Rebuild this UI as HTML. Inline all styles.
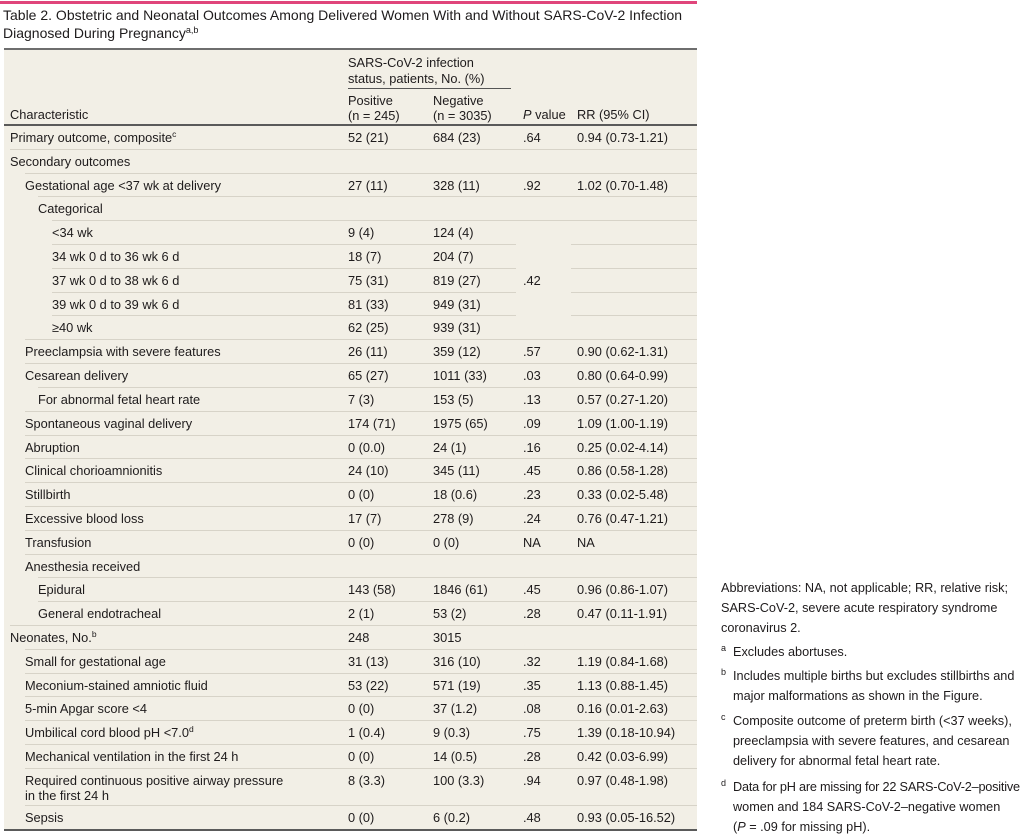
<!DOCTYPE html>
<html><head><meta charset="utf-8">
<style>
html,body{margin:0;padding:0}
body{width:1024px;height:836px;position:relative;background:#fff;font-family:"Liberation Sans",Arial,sans-serif;color:#1e1b1c;overflow:hidden}
.a{position:absolute;white-space:nowrap}
.t{position:absolute;white-space:nowrap;font-size:12.8px;line-height:24px}
.ln{position:absolute;height:1px;background:#d7d3c8}
.sp{font-size:8.5px;position:relative;top:-5px}
.h{position:absolute;white-space:nowrap;font-size:12.8px;line-height:15px}
.fn{position:absolute;left:721px;font-size:12.7px;line-height:20px;white-space:nowrap;color:#1e1b1c}
.fm{position:absolute;left:0;top:-4px;font-size:9px}
.fi{padding-left:12px}
</style></head><body>

<div class="a" style="left:0;top:1px;width:697px;height:3px;background:#e0457b"></div>
<div class="a" style="left:3px;top:6px;font-size:14px;line-height:18px">Table 2. Obstetric and Neonatal Outcomes Among Delivered Women With and Without SARS-CoV-2 Infection<br>Diagnosed During Pregnancy<span style="font-size:9px;position:relative;top:-5px">a,b</span></div>

<div class="a" style="left:4px;top:48px;width:693px;height:783px;background:#f2efe6"></div>
<div class="a" style="left:4px;top:48px;width:693px;height:2px;background:#6e6e6e"></div>
<div class="a" style="left:4px;top:124px;width:693px;height:2px;background:#5a5a5a"></div>
<div class="a" style="left:4px;top:829px;width:693px;height:2px;background:#5a5a5a"></div>

<!-- header -->
<div class="h" style="left:348px;top:55px;line-height:16px">SARS-CoV-2 infection<br>status, patients, No. (%)</div>
<div class="a" style="left:348px;top:88px;width:163px;height:1px;background:#555"></div>
<div class="h" style="left:348px;top:93px">Positive<br>(n = 245)</div>
<div class="h" style="left:433px;top:93px">Negative<br>(n = 3035)</div>
<div class="h" style="left:10px;top:107px">Characteristic</div>
<div class="h" style="left:523px;top:107px"><i>P</i> value</div>
<div class="h" style="left:577px;top:107px">RR (95% CI)</div>

<!-- separator lines -->
<div class="ln" style="left:10px;top:149px;width:687px"></div>
<div class="ln" style="left:25px;top:173px;width:672px"></div>
<div class="ln" style="left:38px;top:196px;width:659px"></div>
<div class="ln" style="left:52px;top:220px;width:645px"></div>
<div class="ln" style="left:52px;top:244px;width:464px"></div><div class="ln" style="left:571px;top:244px;width:126px"></div>
<div class="ln" style="left:52px;top:268px;width:464px"></div><div class="ln" style="left:571px;top:268px;width:126px"></div>
<div class="ln" style="left:52px;top:292px;width:464px"></div><div class="ln" style="left:571px;top:292px;width:126px"></div>
<div class="ln" style="left:52px;top:315px;width:464px"></div><div class="ln" style="left:571px;top:315px;width:126px"></div>
<div class="ln" style="left:25px;top:339px;width:672px"></div>
<div class="ln" style="left:25px;top:363px;width:672px"></div>
<div class="ln" style="left:38px;top:387px;width:659px"></div>
<div class="ln" style="left:25px;top:411px;width:672px"></div>
<div class="ln" style="left:25px;top:435px;width:672px"></div>
<div class="ln" style="left:25px;top:458px;width:672px"></div>
<div class="ln" style="left:25px;top:482px;width:672px"></div>
<div class="ln" style="left:25px;top:506px;width:672px"></div>
<div class="ln" style="left:25px;top:530px;width:672px"></div>
<div class="ln" style="left:25px;top:554px;width:672px"></div>
<div class="ln" style="left:38px;top:577px;width:659px"></div>
<div class="ln" style="left:38px;top:601px;width:659px"></div>
<div class="ln" style="left:10px;top:625px;width:687px"></div>
<div class="ln" style="left:25px;top:649px;width:672px"></div>
<div class="ln" style="left:25px;top:673px;width:672px"></div>
<div class="ln" style="left:25px;top:696px;width:672px"></div>
<div class="ln" style="left:25px;top:720px;width:672px"></div>
<div class="ln" style="left:25px;top:744px;width:672px"></div>
<div class="ln" style="left:25px;top:768px;width:672px"></div>
<div class="ln" style="left:25px;top:805px;width:672px"></div>

<!-- rows -->
<div class="t" style="left:10px;top:126px">Primary outcome, composite<span class="sp">c</span></div>
<div class="t" style="left:348px;top:126px">52 (21)</div><div class="t" style="left:433px;top:126px">684 (23)</div><div class="t" style="left:523px;top:126px">.64</div><div class="t" style="left:577px;top:126px">0.94 (0.73-1.21)</div>

<div class="t" style="left:10px;top:150px">Secondary outcomes</div>

<div class="t" style="left:25px;top:174px">Gestational age &lt;37 wk at delivery</div>
<div class="t" style="left:348px;top:174px">27 (11)</div><div class="t" style="left:433px;top:174px">328 (11)</div><div class="t" style="left:523px;top:174px">.92</div><div class="t" style="left:577px;top:174px">1.02 (0.70-1.48)</div>

<div class="t" style="left:38px;top:197px">Categorical</div>

<div class="t" style="left:52px;top:221px">&lt;34 wk</div>
<div class="t" style="left:348px;top:221px">9 (4)</div><div class="t" style="left:433px;top:221px">124 (4)</div>

<div class="t" style="left:52px;top:245px">34 wk 0 d to 36 wk 6 d</div>
<div class="t" style="left:348px;top:245px">18 (7)</div><div class="t" style="left:433px;top:245px">204 (7)</div>

<div class="t" style="left:52px;top:269px">37 wk 0 d to 38 wk 6 d</div>
<div class="t" style="left:348px;top:269px">75 (31)</div><div class="t" style="left:433px;top:269px">819 (27)</div><div class="t" style="left:523px;top:269px">.42</div>

<div class="t" style="left:52px;top:293px">39 wk 0 d to 39 wk 6 d</div>
<div class="t" style="left:348px;top:293px">81 (33)</div><div class="t" style="left:433px;top:293px">949 (31)</div>

<div class="t" style="left:52px;top:316px">≥40 wk</div>
<div class="t" style="left:348px;top:316px">62 (25)</div><div class="t" style="left:433px;top:316px">939 (31)</div>

<div class="t" style="left:25px;top:340px">Preeclampsia with severe features</div>
<div class="t" style="left:348px;top:340px">26 (11)</div><div class="t" style="left:433px;top:340px">359 (12)</div><div class="t" style="left:523px;top:340px">.57</div><div class="t" style="left:577px;top:340px">0.90 (0.62-1.31)</div>

<div class="t" style="left:25px;top:364px">Cesarean delivery</div>
<div class="t" style="left:348px;top:364px">65 (27)</div><div class="t" style="left:433px;top:364px">1011 (33)</div><div class="t" style="left:523px;top:364px">.03</div><div class="t" style="left:577px;top:364px">0.80 (0.64-0.99)</div>

<div class="t" style="left:38px;top:388px">For abnormal fetal heart rate</div>
<div class="t" style="left:348px;top:388px">7 (3)</div><div class="t" style="left:433px;top:388px">153 (5)</div><div class="t" style="left:523px;top:388px">.13</div><div class="t" style="left:577px;top:388px">0.57 (0.27-1.20)</div>

<div class="t" style="left:25px;top:412px">Spontaneous vaginal delivery</div>
<div class="t" style="left:348px;top:412px">174 (71)</div><div class="t" style="left:433px;top:412px">1975 (65)</div><div class="t" style="left:523px;top:412px">.09</div><div class="t" style="left:577px;top:412px">1.09 (1.00-1.19)</div>

<div class="t" style="left:25px;top:436px">Abruption</div>
<div class="t" style="left:348px;top:436px">0 (0.0)</div><div class="t" style="left:433px;top:436px">24 (1)</div><div class="t" style="left:523px;top:436px">.16</div><div class="t" style="left:577px;top:436px">0.25 (0.02-4.14)</div>

<div class="t" style="left:25px;top:459px">Clinical chorioamnionitis</div>
<div class="t" style="left:348px;top:459px">24 (10)</div><div class="t" style="left:433px;top:459px">345 (11)</div><div class="t" style="left:523px;top:459px">.45</div><div class="t" style="left:577px;top:459px">0.86 (0.58-1.28)</div>

<div class="t" style="left:25px;top:483px">Stillbirth</div>
<div class="t" style="left:348px;top:483px">0 (0)</div><div class="t" style="left:433px;top:483px">18 (0.6)</div><div class="t" style="left:523px;top:483px">.23</div><div class="t" style="left:577px;top:483px">0.33 (0.02-5.48)</div>

<div class="t" style="left:25px;top:507px">Excessive blood loss</div>
<div class="t" style="left:348px;top:507px">17 (7)</div><div class="t" style="left:433px;top:507px">278 (9)</div><div class="t" style="left:523px;top:507px">.24</div><div class="t" style="left:577px;top:507px">0.76 (0.47-1.21)</div>

<div class="t" style="left:25px;top:531px">Transfusion</div>
<div class="t" style="left:348px;top:531px">0 (0)</div><div class="t" style="left:433px;top:531px">0 (0)</div><div class="t" style="left:523px;top:531px">NA</div><div class="t" style="left:577px;top:531px">NA</div>

<div class="t" style="left:25px;top:555px">Anesthesia received</div>

<div class="t" style="left:38px;top:578px">Epidural</div>
<div class="t" style="left:348px;top:578px">143 (58)</div><div class="t" style="left:433px;top:578px">1846 (61)</div><div class="t" style="left:523px;top:578px">.45</div><div class="t" style="left:577px;top:578px">0.96 (0.86-1.07)</div>

<div class="t" style="left:38px;top:602px">General endotracheal</div>
<div class="t" style="left:348px;top:602px">2 (1)</div><div class="t" style="left:433px;top:602px">53 (2)</div><div class="t" style="left:523px;top:602px">.28</div><div class="t" style="left:577px;top:602px">0.47 (0.11-1.91)</div>

<div class="t" style="left:10px;top:626px">Neonates, No.<span class="sp">b</span></div>
<div class="t" style="left:348px;top:626px">248</div><div class="t" style="left:433px;top:626px">3015</div>

<div class="t" style="left:25px;top:650px">Small for gestational age</div>
<div class="t" style="left:348px;top:650px">31 (13)</div><div class="t" style="left:433px;top:650px">316 (10)</div><div class="t" style="left:523px;top:650px">.32</div><div class="t" style="left:577px;top:650px">1.19 (0.84-1.68)</div>

<div class="t" style="left:25px;top:674px">Meconium-stained amniotic fluid</div>
<div class="t" style="left:348px;top:674px">53 (22)</div><div class="t" style="left:433px;top:674px">571 (19)</div><div class="t" style="left:523px;top:674px">.35</div><div class="t" style="left:577px;top:674px">1.13 (0.88-1.45)</div>

<div class="t" style="left:25px;top:697px">5-min Apgar score &lt;4</div>
<div class="t" style="left:348px;top:697px">0 (0)</div><div class="t" style="left:433px;top:697px">37 (1.2)</div><div class="t" style="left:523px;top:697px">.08</div><div class="t" style="left:577px;top:697px">0.16 (0.01-2.63)</div>

<div class="t" style="left:25px;top:721px">Umbilical cord blood pH &lt;7.0<span class="sp">d</span></div>
<div class="t" style="left:348px;top:721px">1 (0.4)</div><div class="t" style="left:433px;top:721px">9 (0.3)</div><div class="t" style="left:523px;top:721px">.75</div><div class="t" style="left:577px;top:721px">1.39 (0.18-10.94)</div>

<div class="t" style="left:25px;top:745px">Mechanical ventilation in the first 24 h</div>
<div class="t" style="left:348px;top:745px">0 (0)</div><div class="t" style="left:433px;top:745px">14 (0.5)</div><div class="t" style="left:523px;top:745px">.28</div><div class="t" style="left:577px;top:745px">0.42 (0.03-6.99)</div>

<div class="t" style="left:25px;top:773px;line-height:15px">Required continuous positive airway pressure<br>in the first 24 h</div>
<div class="t" style="left:348px;top:773px;line-height:15px">8 (3.3)</div><div class="t" style="left:433px;top:773px;line-height:15px">100 (3.3)</div><div class="t" style="left:523px;top:773px;line-height:15px">.94</div><div class="t" style="left:577px;top:773px;line-height:15px">0.97 (0.48-1.98)</div>

<div class="t" style="left:25px;top:806px">Sepsis</div>
<div class="t" style="left:348px;top:806px">0 (0)</div><div class="t" style="left:433px;top:806px">6 (0.2)</div><div class="t" style="left:523px;top:806px">.48</div><div class="t" style="left:577px;top:806px">0.93 (0.05-16.52)</div>

<!-- footnotes -->
<div class="fn" style="top:578px">Abbreviations: NA, not applicable; RR, relative risk;<br>SARS-CoV-2, severe acute respiratory syndrome<br>coronavirus 2.</div>
<div class="fn fi" style="top:642px"><span class="fm">a</span>Excludes abortuses.</div>
<div class="fn fi" style="top:666px"><span class="fm">b</span>Includes multiple births but excludes stillbirths and<br>major malformations as shown in the Figure.</div>
<div class="fn fi" style="top:711px"><span class="fm">c</span>Composite outcome of preterm birth (&lt;37 weeks),<br>preeclampsia with severe features, and cesarean<br>delivery for abnormal fetal heart rate.</div>
<div class="fn fi" style="top:777px"><span class="fm">d</span><span style="letter-spacing:-0.2px">Data for pH are missing for 22 SARS-CoV-2–positive</span><br>women and 184 SARS-CoV-2–negative women<br>(<i>P</i> = .09 for missing pH).</div>

</body></html>
